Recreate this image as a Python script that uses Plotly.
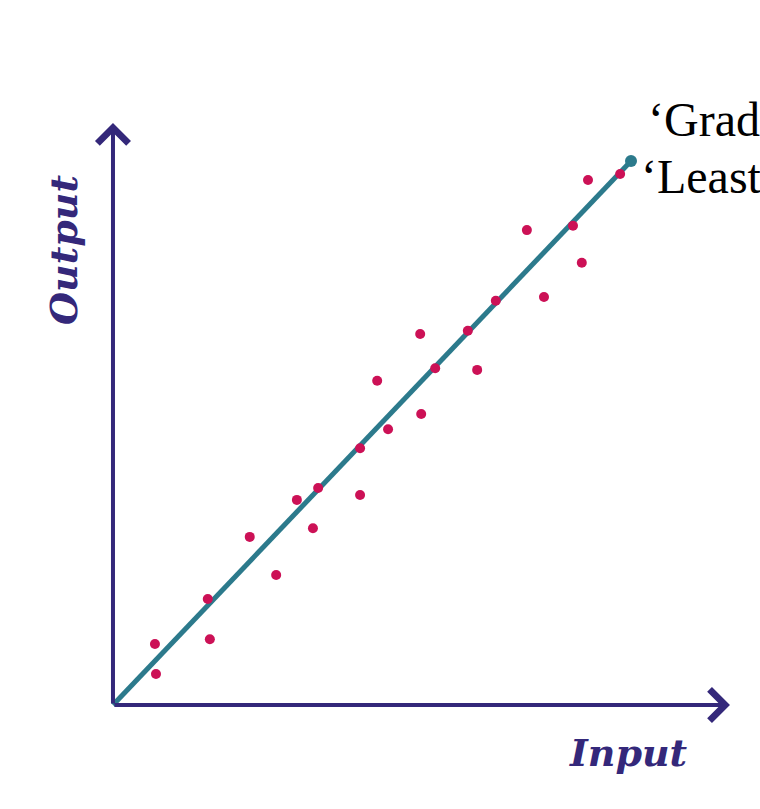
import plotly.graph_objects as go

# Data (units: line runs from (0,0) to (100,100))
input_vals = [8.1, 8.3, 18.3, 18.7, 26.4, 31.5, 35.5, 38.6, 39.6, 47.7, 47.7, 51.0,
              53.1, 59.5, 59.3, 62.2, 68.5, 70.3, 73.9, 79.9, 83.2, 88.8, 90.5, 91.7, 97.9]
output_vals = [11.2, 5.7, 19.5, 12.1, 30.9, 23.9, 37.7, 32.5, 39.9, 38.6, 47.2, 59.6,
               50.7, 53.5, 68.2, 61.9, 68.8, 61.6, 74.3, 87.3, 75.0, 88.1, 81.3, 96.5, 97.6]
fit_x = [0, 100]
fit_y = [0, 100]
x_axis_end = 119.1
y_axis_end = 107.0
label_lines = ["\u2018Grad", "\u2018Least"]
x_label = "Input"
y_label = "Output"

AXIS_COLOR = "#34287a"
LINE_COLOR = "#2c7a8c"
DOT_COLOR = "#cc1156"

fig = go.Figure()

fig.add_trace(go.Scatter(x=fit_x, y=fit_y, mode="lines",
                         line=dict(color=LINE_COLOR, width=5), hoverinfo="skip",
                         showlegend=False))
fig.add_trace(go.Scatter(x=[fit_x[-1]], y=[fit_y[-1]], mode="markers",
                         marker=dict(color=LINE_COLOR, size=12), showlegend=False))
fig.add_trace(go.Scatter(x=input_vals, y=output_vals, mode="markers",
                         marker=dict(color=DOT_COLOR, size=10), showlegend=False))

# axes as arrows
fig.add_annotation(x=x_axis_end, y=0, ax=0, ay=0, xref="x", yref="y", axref="x", ayref="y",
                   text="", showarrow=True, arrowhead=4, arrowsize=1.5, arrowwidth=4,
                   arrowcolor=AXIS_COLOR)
fig.add_annotation(x=0, y=y_axis_end, ax=0, ay=0, xref="x", yref="y", axref="x", ayref="y",
                   text="", showarrow=True, arrowhead=4, arrowsize=1.5, arrowwidth=4,
                   arrowcolor=AXIS_COLOR)

label_font = dict(family="DejaVu Serif", size=38, color=AXIS_COLOR)
fig.add_annotation(x=63 / 760, y=1 - 250 / 809, xref="paper", yref="paper",
                   xanchor="center", yanchor="middle",
                   text=f"<b><i>{y_label}</i></b>", textangle=-90, showarrow=False,
                   font=label_font)
fig.add_annotation(x=628 / 760, y=1 - 752 / 809, xref="paper", yref="paper",
                   xanchor="center", yanchor="middle",
                   text=f"<b><i>{x_label}</i></b>", showarrow=False, font=label_font)

text_font = dict(family="Liberation Serif", size=48, color="black")
fig.add_annotation(x=646 / 760, y=1 - 120 / 809, xref="paper", yref="paper",
                   xanchor="left", yanchor="middle", text=label_lines[0],
                   showarrow=False, font=text_font)
fig.add_annotation(x=639 / 760, y=1 - 176 / 809, xref="paper", yref="paper",
                   xanchor="left", yanchor="middle", text=label_lines[1],
                   showarrow=False, font=text_font)

fig.update_layout(
    width=760, height=809,
    margin=dict(l=0, r=0, t=0, b=0),
    paper_bgcolor="white", plot_bgcolor="white",
    xaxis=dict(range=[-21.81, 124.9], visible=False, fixedrange=True),
    yaxis=dict(range=[-19.12, 129.6], visible=False, fixedrange=True),
    showlegend=False,
)

fig.write_html("out.html", post_script="document.body.style.margin='0';",
               config={"displayModeBar": False})
